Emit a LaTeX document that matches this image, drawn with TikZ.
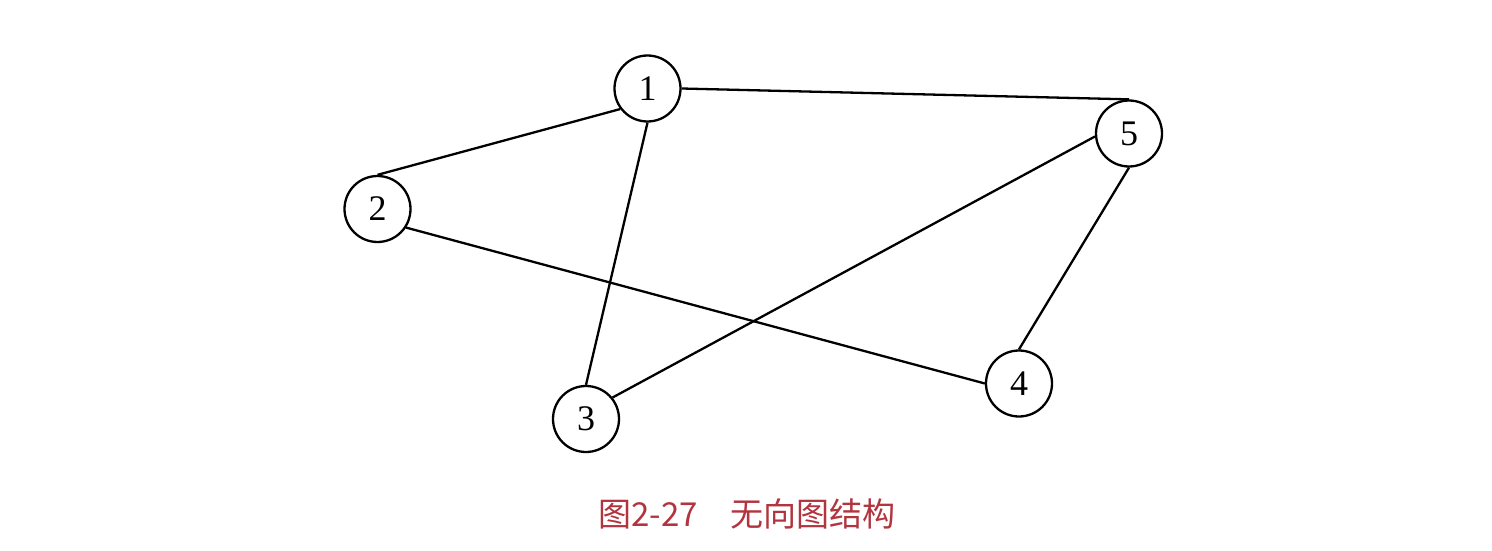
\documentclass[tikz,border=0pt]{standalone}
\usepackage{fontspec}
\setmainfont{Liberation Serif}
\newfontfamily\cjk{Noto Sans CJK SC}
\definecolor{captionred}{RGB}{178,52,62}
\begin{document}
\begin{tikzpicture}[x=1pt,y=-1pt,line width=2.3pt,
    vertex/.style={draw,circle,inner sep=0pt,minimum size=66pt,
      font=\fontsize{36}{36}\selectfont}]
      \useasboundingbox (0,0) rectangle (1492,551);
      \draw
        (647.5,88.5) node[vertex] (1){1}
        (377.5,209) node[vertex] (2){2}
        (586,419) node[vertex] (3){3}
        (1019,383.5) node[vertex] (4){4}
        (1129,133.5) node[vertex] (5){5};
      \node[text=captionred,font=\cjk\fontsize{33}{33}\selectfont] (cap)
        at (747,514) {图2-27　无向图结构};
      \begin{scope}[-]
        \draw (1.east) to (5.north);
        \draw (2.north) to (1.217);
        \draw (1.south) to (3.north);
        \draw (2.-33) to (4.west);
        \draw (3.39) to (5.185);
        \draw (5.south) to (4.north);
      \end{scope}
    \end{tikzpicture}
\end{document}
